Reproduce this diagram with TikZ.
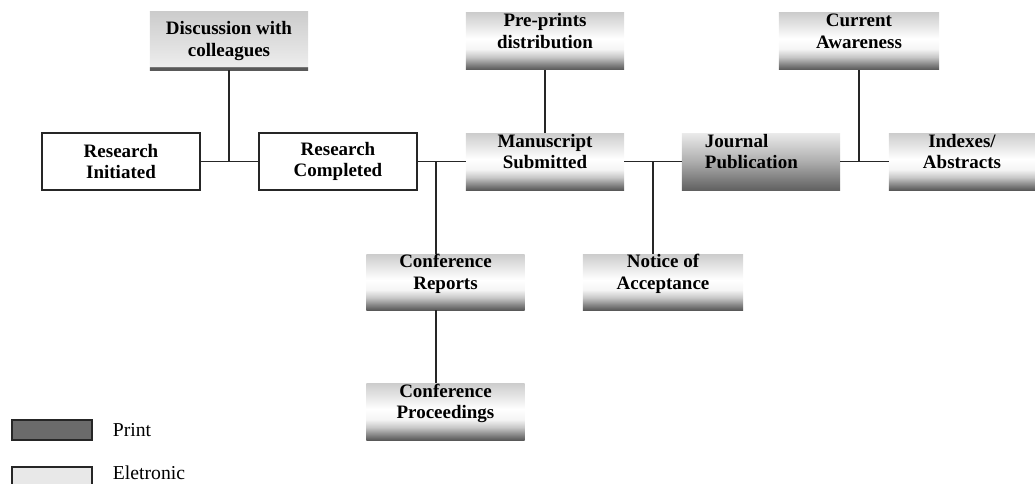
\documentclass[tikz,border=0pt]{standalone}
\usepackage{fontspec}
\setmainfont{Liberation Serif}
\usetikzlibrary{positioning}

\pgfdeclareverticalshading{silver}{100bp}{color(0bp)=(black!65); color(25bp)=(black!65); color(29bp)=(black!50); color(36bp)=(black!22); color(43bp)=(black!4); color(52bp)=(white); color(75bp)=(black!20); color(100bp)=(black!20)}
\pgfdeclareverticalshading{printshade}{100bp}{color(0bp)=(black!62); color(25bp)=(black!62); color(50bp)=(black!32); color(75bp)=(black!8); color(100bp)=(black!8)}
\pgfdeclareverticalshading{paleshade}{100bp}{color(0bp)=(black!65); color(25bp)=(black!65); color(27.5bp)=(black!65); color(28bp)=(black!7); color(75bp)=(black!20); color(100bp)=(black!20)}

\begin{document}
\begin{tikzpicture}[
  x=0.025cm, y=-0.025cm,
  boxfont/.style={font=\bfseries\fontsize{13.5}{15}\selectfont},
  resbox/.style={draw=black!85, line width=1pt, boxfont, align=center, minimum width=3.95cm, minimum height=1.425cm},
  elecbox/.style={shade, shading=silver, boxfont, align=center, minimum width=3.95cm, minimum height=1.425cm, inner ysep=0pt, text height=24.5pt, text depth=14.5pt},
  palebox/.style={shade, shading=paleshade, boxfont, align=center, minimum width=3.95cm, minimum height=1.45cm},
  printbox/.style={elecbox, shading=printshade, align=left, text width=2.8cm, inner xsep=0pt, text height=9.5pt, text depth=30pt},
  link/.style={draw=black!85, line width=0.9pt},
  legbox/.style={draw=black!85, line width=1pt, minimum width=2cm, minimum height=0.5cm, inner sep=0pt},
  legtext/.style={font=\fontsize{14}{16}\selectfont}
]
  \useasboundingbox (0,0) rectangle (1035,483);

  \node[palebox] (disc) at (229,41) {Discussion with\\colleagues};
  \node[resbox] (init) at (121,161.5) {Research\\Initiated};
  \node[resbox] (comp) at (338,161.5) {Research\\Completed};
  \node[elecbox] (pre) at (545,41) {Pre-prints\\distribution};
  \node[elecbox] (manu) at (545,161.5) {Manuscript\\Submitted};
  \node[printbox] (jour) at (761,161.5) {Journal\\Publication};
  \node[elecbox, minimum width=4cm] (cur) at (859,41) {Current\\Awareness};
  \node[elecbox, minimum width=3.65cm] (idx) at (962,161.5) {Indexes/\\Abstracts};
  \node[elecbox, minimum height=1.4cm] (conf) at (445.5,282) {Conference\\Reports};
  \node[elecbox, minimum width=4cm, minimum height=1.4cm] (notice) at (663,282) {Notice of\\Acceptance};
  \node[elecbox] (proc) at (445.5,411.5) {Conference\\Proceedings};

  \coordinate (jconf) at (436,161.5);
  \coordinate (jacc) at (653,161.5);

  \draw[link] (init) -- (comp);
  \draw[link] (disc) -- (disc |- init);
  \draw[link] (comp) -- (manu);
  \draw[link] (jconf) -- (jconf |- conf.north);
  \draw[link] (jconf |- conf.south) -- (jconf |- proc.north);
  \draw[link] (pre) -- (manu);
  \draw[link] (manu) -- (jour);
  \draw[link] (jacc) -- (jacc |- notice.north);
  \draw[link] (jour) -- (idx);
  \draw[link] (cur) -- (cur |- idx);

  % legend
  \node[legbox, fill=black!58] (kprint) at (52,430) {};
  \node[legtext, right=0.38cm of kprint] (lprint) {Print};
  \node[legbox, fill=black!9] (kelec) at (52,477) {};
  \node[legtext, right=0.38cm of kelec, yshift=0.1cm] (lelec) {Eletronic};
\end{tikzpicture}
\end{document}
